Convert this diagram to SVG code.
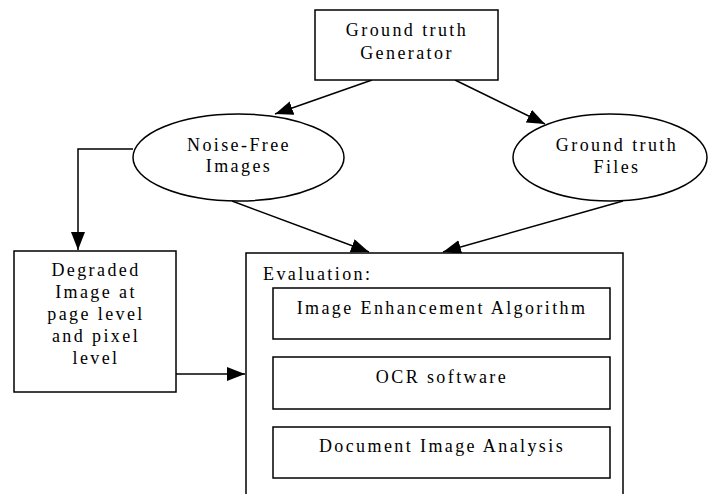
<svg xmlns="http://www.w3.org/2000/svg" width="710" height="494" viewBox="0 0 710 494">
<style>
.box{fill:#fff;stroke:#000;stroke-width:1.5}
.t{font-family:"Liberation Serif","Times New Roman",serif;font-size:18px;letter-spacing:2.4px;fill:#000}
.m{text-anchor:middle}
.c{fill:none;stroke:#000;stroke-width:1.5}
</style>
<defs>
<marker id="ah" markerUnits="userSpaceOnUse" markerWidth="20" markerHeight="16" refX="18" refY="7" orient="auto">
<path d="M0,0 L18,7 L0,14 z" fill="#000"/>
</marker>
</defs>
<rect width="710" height="494" fill="#fff"/>
<g id="connectors">
<line class="c" x1="372" y1="80" x2="275" y2="114" marker-end="url(#ah)"/>
<line class="c" x1="455" y1="80" x2="545" y2="124" marker-end="url(#ah)"/>
<line class="c" x1="232" y1="201" x2="369" y2="252" marker-end="url(#ah)"/>
<line class="c" x1="623" y1="201" x2="443" y2="252" marker-end="url(#ah)"/>
<polyline class="c" points="133,149 78,149 78,250" marker-end="url(#ah)"/>
<line class="c" x1="176" y1="374" x2="245" y2="374" marker-end="url(#ah)"/>
</g>
<g id="generator">
<rect class="box" x="315" y="10" width="183" height="70"/>
<text class="t m" x="407" y="36">Ground truth</text>
<text class="t m" x="407" y="59">Generator</text>
</g>
<g id="noise-free">
<ellipse class="box" cx="238.5" cy="157.5" rx="105.5" ry="43.5"/>
<text class="t m" x="239" y="151">Noise-Free</text>
<text class="t m" x="239" y="172">Images</text>
</g>
<g id="gt-files">
<ellipse class="box" cx="610" cy="157.5" rx="97" ry="43.5"/>
<text class="t m" x="617" y="151">Ground truth</text>
<text class="t m" x="617" y="173">Files</text>
</g>
<g id="degraded">
<rect class="box" x="14" y="251" width="162" height="141"/>
<text class="t m" x="96" y="276">Degraded</text>
<text class="t m" x="96" y="298">Image at</text>
<text class="t m" x="96" y="320">page level</text>
<text class="t m" x="96" y="342">and pixel</text>
<text class="t m" x="96" y="364">level</text>
</g>
<g id="evaluation">
<rect class="box" x="246" y="253" width="377" height="260"/>
<text class="t" x="263" y="280">Evaluation:</text>
<g id="enhancement">
<rect class="box" x="273" y="288" width="337" height="51"/>
<text class="t m" x="442" y="314">Image Enhancement Algorithm</text>
</g>
<g id="ocr">
<rect class="box" x="273" y="357" width="337" height="52"/>
<text class="t m" x="442" y="383">OCR software</text>
</g>
<g id="dia">
<rect class="box" x="273" y="427" width="337" height="51"/>
<text class="t m" x="442" y="452">Document Image Analysis</text>
</g>
</g>
</svg>
